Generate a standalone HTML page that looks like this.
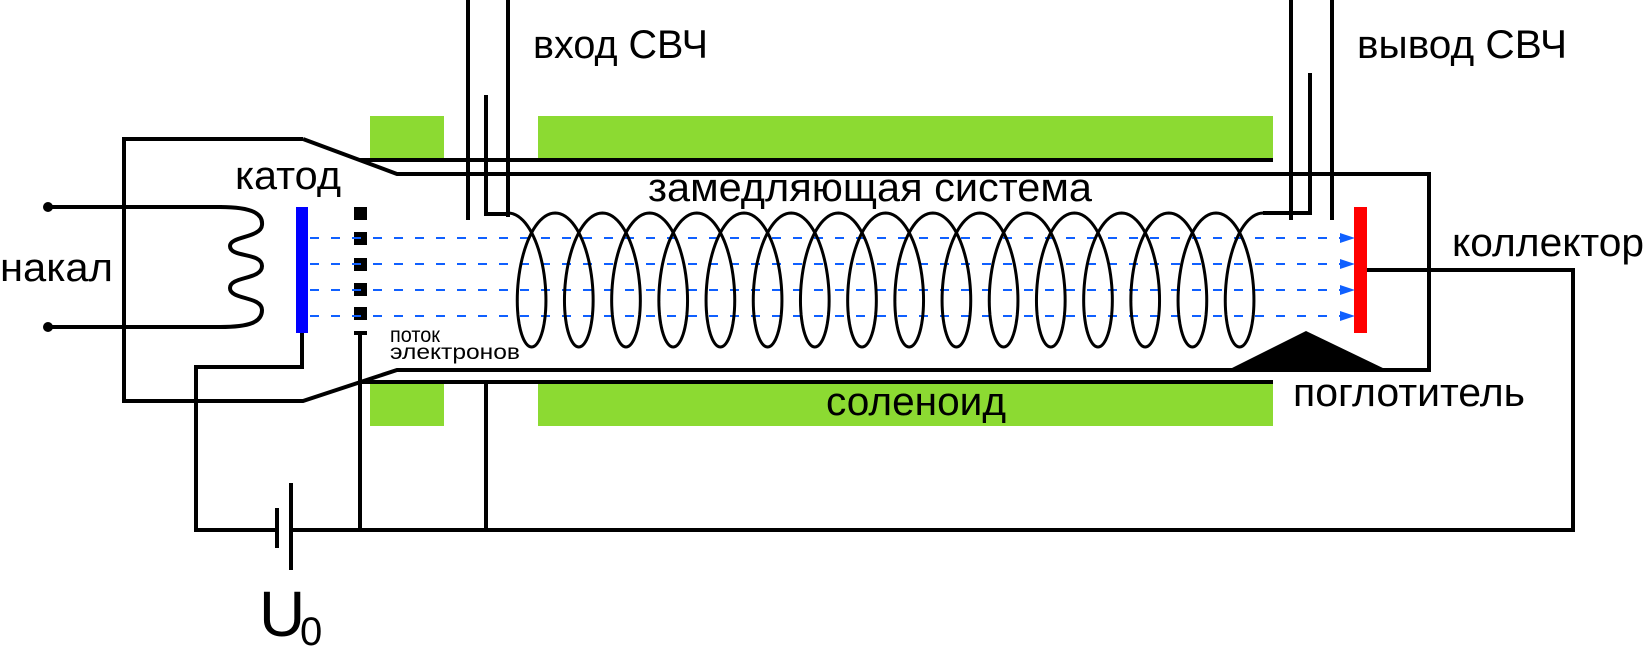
<!DOCTYPE html>
<html><head><meta charset="utf-8"><style>
html,body{margin:0;padding:0;background:#fff;}
svg{display:block;}
text{font-family:"Liberation Sans",sans-serif;fill:#000;}
</style></head><body>
<svg id="s" width="1646" height="665" viewBox="0 0 1646 665" xmlns="http://www.w3.org/2000/svg">
<g fill="#8cda32">
<rect x="370" y="116" width="74" height="42"/>
<rect x="538" y="116" width="735" height="42"/>
<rect x="370" y="384" width="74" height="42"/>
<rect x="538" y="384" width="735" height="42"/>
</g>
<g fill="none" stroke="#000" stroke-width="4">
<path d="M303,139 L124,139 L124,401 L303,401 L397,370 L1429,370 L1429,174 L397,174 L303,139"/>
<line x1="360" y1="160" x2="1273" y2="160"/>
<line x1="360" y1="382" x2="1273" y2="382"/>
<line x1="468" y1="0" x2="468" y2="220"/>
<line x1="508" y1="0" x2="508" y2="217"/>
<path d="M486,95 L486,214 L510,214"/>
<line x1="1291" y1="0" x2="1291" y2="220"/>
<line x1="1332" y1="0" x2="1332" y2="220"/>
<path d="M1263,213 L1310,213 L1310,73"/>
<line x1="48" y1="207" x2="222" y2="207"/>
<line x1="48" y1="327" x2="222" y2="327"/>
<path d="M220,207 C255,207 263,215 262,225 C261,238 230,236 230,246 C230,258 262,252 262,266 C262,280 230,276 230,288 C230,300 262,296 262,310 C262,322 250,327 220,327"/>
<path d="M302,333 L302,367 L196,367 L196,530 L277,530"/>
<path d="M291,530 L1573,530 L1573,270 L1367,270"/>
<line x1="360" y1="333" x2="360" y2="530"/>
<line x1="354" y1="333" x2="367" y2="333"/>
<line x1="486" y1="382" x2="486" y2="530"/>
<line x1="277" y1="508" x2="277" y2="548"/>
<line x1="291" y1="483" x2="291" y2="570"/>
</g>
<circle cx="48" cy="207" r="5"/>
<circle cx="48" cy="327" r="5"/>
<polygon points="1228,370 1306,331 1387,370"/>
<rect x="296" y="207" width="12" height="126" fill="#0000ff"/>
<rect x="1354" y="207" width="13" height="126" fill="#ff0000"/>
<g fill="#000">
<rect x="354" y="207" width="13" height="13"/>
<rect x="354" y="232" width="13" height="13"/>
<rect x="354" y="258" width="13" height="13"/>
<rect x="354" y="283" width="13" height="13"/>
<rect x="354" y="307" width="13" height="13"/>
</g>
<g stroke="#1060ff" stroke-width="2" stroke-dasharray="9 12">
<line x1="310" y1="238" x2="1340" y2="238"/>
<line x1="310" y1="264" x2="1340" y2="264"/>
<line x1="310" y1="290" x2="1340" y2="290"/>
<line x1="310" y1="316" x2="1340" y2="316"/>
</g>
<g fill="#1060ff">
<polygon points="1340,233 1355,238 1340,243"/>
<polygon points="1340,259 1355,264 1340,269"/>
<polygon points="1340,285 1355,290 1340,295"/>
<polygon points="1340,311 1355,316 1340,321"/>
</g>
<path id="helix" fill="none" stroke="#000" stroke-width="3" d=""/>
<g font-size="40">
<text x="533" y="58" textLength="175" lengthAdjust="spacingAndGlyphs">вход СВЧ</text>
<text x="1357" y="58" textLength="210" lengthAdjust="spacingAndGlyphs">вывод СВЧ</text>
<text x="235" y="189" textLength="106" lengthAdjust="spacingAndGlyphs">катод</text>
<text x="648" y="201" textLength="444" lengthAdjust="spacingAndGlyphs">замедляющая система</text>
<text x="0" y="281" textLength="113" lengthAdjust="spacingAndGlyphs">накал</text>
<text x="1452" y="256" textLength="192" lengthAdjust="spacingAndGlyphs">коллектор</text>
<text x="1293" y="406" textLength="232" lengthAdjust="spacingAndGlyphs">поглотитель</text>
<text x="826" y="415" textLength="180" lengthAdjust="spacingAndGlyphs">соленоид</text>
</g>
<text x="390" y="342" font-size="21" textLength="50" lengthAdjust="spacingAndGlyphs">поток</text>
<text x="390" y="359" font-size="21" textLength="130" lengthAdjust="spacingAndGlyphs">электронов</text>
<text x="259" y="636" font-size="64">U</text>
<text x="300" y="645" font-size="40">0</text>
</svg>
<script>
(function(){
var x0=508,p=47.2,k=p/(2*Math.PI),R=25,yc=280,H=67,N=16;
var d="",steps=N*80;
for(var i=0;i<=steps;i++){
var t=i/steps*N*2*Math.PI;
var x=x0+k*t+R*Math.sin(t),y=yc-H*Math.cos(t);
d+=(i?"L":"M")+x.toFixed(2)+","+y.toFixed(2);
}
document.getElementById("helix").setAttribute("d",d);
})();
</script>
</body></html>
